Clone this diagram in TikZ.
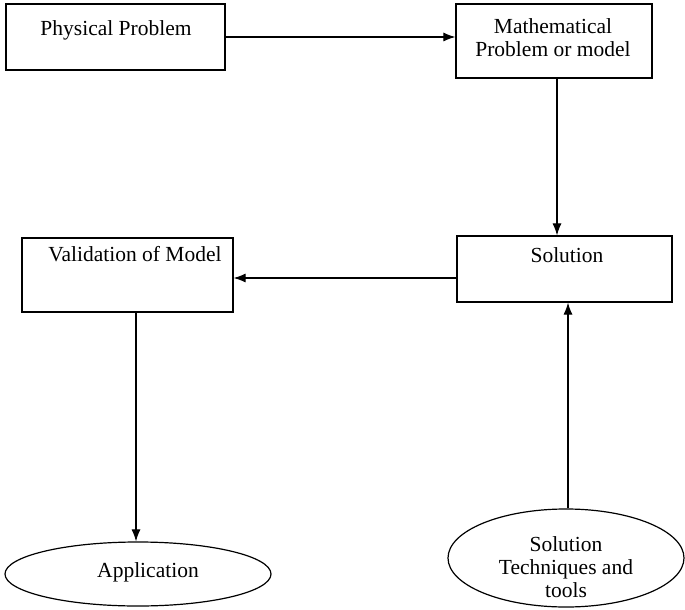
\documentclass[tikz,border=0pt]{standalone}
\usepackage{fontspec}
\setmainfont{Liberation Serif}
\usetikzlibrary{arrows.meta,shapes.geometric}
\begin{document}
\begin{tikzpicture}[x=1pt,y=-1pt,
  every node/.style={font=\fontsize{21.5}{23}\selectfont},
  box/.style={draw,line width=1.2pt,rectangle,inner sep=0pt},
  oval/.style={draw,line width=1.2pt,ellipse,inner sep=0pt},
  txt/.style={align=center,inner sep=0pt},
  flow/.style={draw,line width=1.1pt,-{Latex[length=12pt,width=9pt]}}]
\useasboundingbox (0,0) rectangle (685,610);
% rectangular stages
\node[box,minimum width=219pt,minimum height=66pt] (phys) at (115.5,37) {};
\node[box,minimum width=196pt,minimum height=74pt] (math) at (554,41) {};
\node[box,minimum width=215pt,minimum height=66pt] (sol) at (564.5,269) {};
\node[box,minimum width=211pt,minimum height=74pt] (val) at (127.5,275) {};
% oval stages
\node[oval,minimum width=266pt,minimum height=64pt] (app) at (138,574) {};
\node[oval,minimum width=236pt,minimum height=98pt] (tech) at (566,558) {};
% labels
\node[txt] (physT) at (116,30) {Physical Problem};
\node[txt] (mathT) at (553,38) {Mathematical\\Problem or model};
\node[txt] (solT) at (567,255) {Solution};
\node[txt] (valT) at (135,254) {Validation of Model};
\node[txt] (appT) at (148,572) {Application};
\node[txt] (techT) at (566,567) {Solution\\Techniques and\\tools};
% connectors
\draw[flow] (phys.east |- 0,37) -- (math.west |- 0,37);
\draw[flow] (math.south -| 557,0) -- (sol.north -| 557,0);
\draw[flow] (sol.west |- 0,278) -- (val.east |- 0,278);
\draw[flow] (val.south -| 136,0) -- (app.north -| 136,0);
\draw[flow] (tech.north -| 568,0) -- (sol.south -| 568,0);
\end{tikzpicture}
\end{document}
